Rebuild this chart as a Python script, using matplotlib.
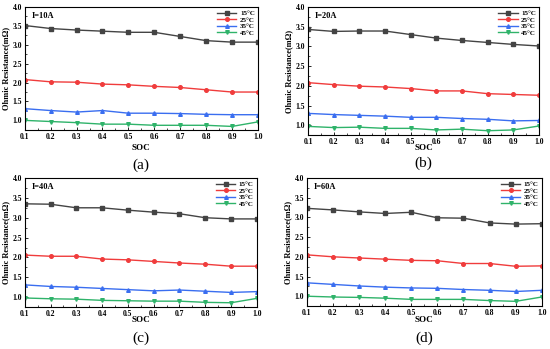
import matplotlib
matplotlib.use("Agg")
import matplotlib.pyplot as plt
from matplotlib.ticker import MultipleLocator

plt.rcParams["font.family"] = ["Liberation Serif", "DejaVu Serif"]
plt.rcParams["font.weight"] = "bold"

soc = [0.1, 0.2, 0.3, 0.4, 0.5, 0.6, 0.7, 0.8, 0.9, 1.0]
temps = ["15\u00b0C", "25\u00b0C", "35\u00b0C", "45\u00b0C"]

r_10a = [
    [3.51, 3.43, 3.39, 3.36, 3.33, 3.33, 3.22, 3.11, 3.07, 3.07],
    [2.08, 2.02, 2.01, 1.96, 1.94, 1.90, 1.87, 1.81, 1.75, 1.75],
    [1.31, 1.26, 1.22, 1.26, 1.19, 1.19, 1.18, 1.16, 1.15, 1.15],
    [1.00, 0.97, 0.94, 0.90, 0.90, 0.87, 0.87, 0.87, 0.84, 0.96],
]
r_20a = [
    [3.43, 3.38, 3.39, 3.39, 3.30, 3.21, 3.15, 3.10, 3.05, 3.01],
    [2.08, 2.03, 1.99, 1.97, 1.93, 1.87, 1.87, 1.80, 1.78, 1.76],
    [1.30, 1.27, 1.25, 1.23, 1.20, 1.20, 1.17, 1.15, 1.11, 1.12],
    [0.97, 0.94, 0.95, 0.92, 0.92, 0.88, 0.90, 0.86, 0.88, 0.98],
]
r_40a = [
    [3.35, 3.34, 3.25, 3.25, 3.19, 3.14, 3.10, 3.00, 2.97, 2.97],
    [2.06, 2.03, 2.03, 1.96, 1.94, 1.90, 1.86, 1.83, 1.78, 1.78],
    [1.31, 1.27, 1.25, 1.22, 1.19, 1.16, 1.18, 1.15, 1.12, 1.14],
    [0.98, 0.96, 0.95, 0.92, 0.91, 0.90, 0.90, 0.87, 0.86, 0.97],
]
r_60a = [
    [3.23, 3.19, 3.14, 3.10, 3.13, 2.99, 2.98, 2.86, 2.83, 2.84],
    [2.05, 2.00, 1.97, 1.94, 1.91, 1.90, 1.83, 1.83, 1.76, 1.77],
    [1.34, 1.30, 1.26, 1.23, 1.21, 1.20, 1.17, 1.15, 1.12, 1.15],
    [1.00, 0.98, 0.97, 0.95, 0.92, 0.92, 0.92, 0.89, 0.87, 0.98],
]

colors = ["#444444", "#f03c3c", "#3a6ef0", "#2fb36a"]
markers = ["s", "o", "^", "v"]

panels = [
    ("I=10A", r_10a, "(a)", [0.045, 0.628, 0.424, 0.352], 148, 165),
    ("I=20A", r_20a, "(b)", [0.560, 0.613, 0.420, 0.367], 148, 163),
    ("I=40A", r_40a, "(c)", [0.045, 0.120, 0.422, 0.370], 320, 338),
    ("I=60A", r_60a, "(d)", [0.558, 0.123, 0.427, 0.367], 320, 338),
]

fig = plt.figure(figsize=(5.5, 3.49), dpi=100)

for title, data, tag, rect, soc_y, tag_y in panels:
    ax = fig.add_axes(rect)
    for vals, lab, c, m in zip(data, temps, colors, markers):
        ax.plot(soc, vals, color=c, marker=m, markersize=2.6, linewidth=1.0, label=lab)
    ax.set_xlim(0.1, 1.0)
    ax.set_ylim(0.75, 4.0)
    ax.xaxis.set_major_locator(MultipleLocator(0.1))
    ax.xaxis.set_minor_locator(MultipleLocator(0.05))
    ax.yaxis.set_major_locator(MultipleLocator(0.5))
    ax.yaxis.set_minor_locator(MultipleLocator(0.25))
    ax.tick_params(which="both", direction="in", labelsize=5.5, pad=2)
    ax.tick_params(which="major", length=2.5, width=0.6)
    ax.tick_params(which="minor", length=1.5, width=0.5)
    ax.xaxis.set_major_formatter(plt.FuncFormatter(lambda v, p: f"{v:.1f}"))
    ax.yaxis.set_major_formatter(plt.FuncFormatter(lambda v, p: f"{v:.1f}"))
    for s in ax.spines.values():
        s.set_linewidth(0.8)
    ax.set_ylabel("Ohmic Resistance(m\u03a9)", fontsize=6, fontweight="bold", labelpad=2)
    ax.text(0.03, 0.93, title, transform=ax.transAxes, fontsize=6, fontweight="bold", va="center")
    ax.legend(loc="upper right", frameon=False, fontsize=5, handlelength=2.8,
              labelspacing=0.1, borderaxespad=0.15, borderpad=0.3, handletextpad=0.5)
    cx = rect[0] + rect[2] / 2
    fig.text(cx, 1 - soc_y / 349, "SOC", ha="center", va="center", fontsize=6.5, fontweight="bold")
    fig.text(cx, 1 - tag_y / 349, tag, ha="center", va="center", fontsize=11, fontweight="normal")

fig.savefig("out.png", dpi=100)
